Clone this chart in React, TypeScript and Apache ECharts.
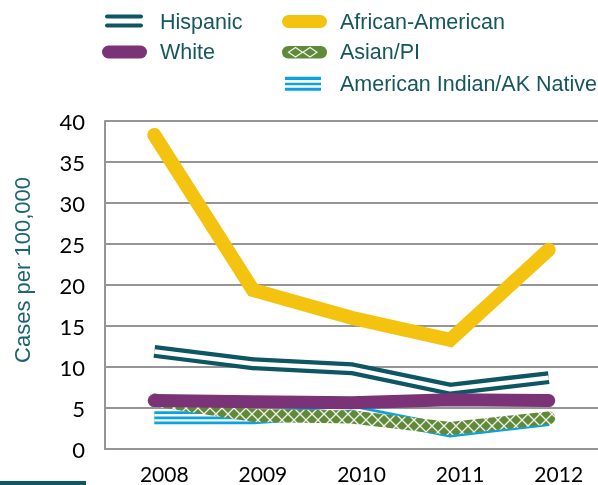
import React, { useEffect, useRef } from "react";
import * as echarts from "echarts";

const years = ["2008", "2009", "2010", "2011", "2012"];
const hispanic = [11.9, 10.4, 9.8, 7.3, 8.7];
const africanAmerican = [38.3, 19.4, 16.0, 13.3, 24.3];
const white = [5.9, 5.75, 5.65, 6.0, 5.9];
const asianPI = [6.0, 4.1, 3.9, 2.5, 3.8];
const amIndian = [3.8, 3.8, 4.6, 2.2, 3.6];
const seriesNames = ["Hispanic", "African-American", "White", "Asian/PI", "American Indian/AK Native"];
const yMin = 0;
const yMax = 40;
const yStep = 5;

const TEAL = "#0e5661";
const YELLOW = "#f4c30f";
const PURPLE = "#7a3377";
const GREEN = "#5f8a3a";
const BLUE = "#0aa3e0";
const TEXT_TEAL = "#15565f";
const GRID_GRAY = "#959595";

function makePatternCanvas() {
  const c = document.createElement("canvas");
  c.width = 12;
  c.height = 12;
  const ctx = c.getContext("2d")!;
  ctx.fillStyle = GREEN;
  ctx.fillRect(0, 0, 12, 12);
  ctx.strokeStyle = "#f3f3ea";
  ctx.lineWidth = 1.3;
  ctx.beginPath();
  ctx.moveTo(6, 0);
  ctx.lineTo(12, 6);
  ctx.lineTo(6, 12);
  ctx.lineTo(0, 6);
  ctx.closePath();
  ctx.stroke();
  return c;
}

export default function App() {
  const ref = useRef<HTMLDivElement>(null);
  useEffect(() => {
    if (!ref.current) return;
    const chart = echarts.init(ref.current, null, { renderer: "svg" });
    const pattern = { image: makePatternCanvas(), repeat: "repeat", imageWidth: 12, imageHeight: 12 };
    const legendFont = { fontFamily: "'Liberation Sans', Arial, sans-serif", fontSize: 21.5, fill: TEXT_TEAL };
    const base = { type: "line", symbol: "none", silent: true, animation: false };
    chart.setOption({
      animation: false,
      grid: { left: 105, right: 0, top: 121, bottom: 36, outerBoundsMode: "none" },
      xAxis: {
        type: "category",
        data: years,
        boundaryGap: true,
        axisLine: { show: true, lineStyle: { color: GRID_GRAY, width: 2 } },
        axisTick: { show: false },
        axisLabel: { color: "#000", fontFamily: "Lato, 'Open Sans', sans-serif", fontSize: 21, lineHeight: 18, margin: 15, padding: [0, 0, 0, 20] },
      },
      yAxis: {
        type: "value",
        min: yMin,
        max: yMax,
        interval: yStep,
        name: "Cases per 100,000",
        nameLocation: "middle",
        nameGap: 72,
        nameTextStyle: { color: "#1a6570", fontFamily: "'Liberation Sans', Arial, sans-serif", fontSize: 22, padding: [0, 0, 0, 30] },
        axisLine: { show: true, lineStyle: { color: GRID_GRAY, width: 2 } },
        axisTick: { show: false },
        splitLine: { show: true, lineStyle: { color: GRID_GRAY, width: 2 } },
        axisLabel: { color: "#000", fontFamily: "Lato, 'Open Sans', sans-serif", fontSize: 22, margin: 20 },
      },
      series: [
        { ...base, name: seriesNames[4], data: amIndian, lineStyle: { color: BLUE, width: 13, cap: "butt", join: "miter" } },
        { ...base, name: seriesNames[4], data: amIndian, lineStyle: { color: "#ffffff", width: 7.5, cap: "butt", join: "miter" } },
        { ...base, name: seriesNames[4], data: amIndian, lineStyle: { color: BLUE, width: 2.8, cap: "butt", join: "miter" } },
        { ...base, name: seriesNames[3], data: asianPI, lineStyle: { color: pattern, width: 13, cap: "round", join: "round" } },
        { ...base, name: seriesNames[0], data: hispanic, lineStyle: { color: TEAL, width: 13, cap: "butt", join: "miter" } },
        { ...base, name: seriesNames[0], data: hispanic, lineStyle: { color: "#ffffff", width: 4.5, cap: "butt", join: "miter" } },
        { ...base, name: seriesNames[2], data: white, lineStyle: { color: PURPLE, width: 13, cap: "round", join: "round" } },
        { ...base, name: seriesNames[1], data: africanAmerican, lineStyle: { color: YELLOW, width: 14, cap: "round", join: "miter" } },
      ],
      graphic: [
        // Hispanic
        { type: "rect", shape: { x: 105, y: 14.5, width: 38, height: 4, r: 2 }, style: { fill: TEAL } },
        { type: "rect", shape: { x: 105, y: 23.5, width: 38, height: 4, r: 2 }, style: { fill: TEAL } },
        { type: "text", x: 160, y: 22, style: { ...legendFont, text: seriesNames[0], verticalAlign: "middle" } },
        // White
        { type: "rect", shape: { x: 102, y: 45.5, width: 45, height: 13, r: 6.5 }, style: { fill: PURPLE } },
        { type: "text", x: 160, y: 52, style: { ...legendFont, text: seriesNames[2], verticalAlign: "middle" } },
        // African-American
        { type: "rect", shape: { x: 282, y: 15, width: 45, height: 13, r: 6.5 }, style: { fill: YELLOW } },
        { type: "text", x: 340, y: 22, style: { ...legendFont, text: seriesNames[1], verticalAlign: "middle" } },
        // Asian/PI
        { type: "rect", shape: { x: 282, y: 46, width: 45, height: 12.5, r: 6.25 }, style: { fill: GREEN } },
        { type: "polygon", shape: { points: [[288.5, 52.2], [295.5, 47.5], [302.5, 52.2], [295.5, 57]] }, style: { fill: "none", stroke: "#f3f3ea", lineWidth: 1.2 } },
        { type: "polygon", shape: { points: [[303, 52.2], [310, 47.5], [317, 52.2], [310, 57]] }, style: { fill: "none", stroke: "#f3f3ea", lineWidth: 1.2 } },
        { type: "text", x: 340, y: 52, style: { ...legendFont, text: seriesNames[3], verticalAlign: "middle" } },
        // American Indian/AK Native
        { type: "rect", shape: { x: 285, y: 76.7, width: 36, height: 14 }, style: { fill: BLUE } },
        { type: "rect", shape: { x: 285, y: 80, width: 36, height: 2.7 }, style: { fill: "#ffffff" } },
        { type: "rect", shape: { x: 285, y: 85.3, width: 36, height: 2.4 }, style: { fill: "#ffffff" } },
        { type: "text", x: 340, y: 84, style: { ...legendFont, text: seriesNames[4], verticalAlign: "middle" } },
        // decorative bar bottom-left
        { type: "rect", shape: { x: 0, y: 481, width: 86, height: 4 }, style: { fill: TEAL } },
      ],
    });
    return () => chart.dispose();
  }, []);
  return <div ref={ref} style={{ position: "fixed", left: 0, top: 0, width: 598, height: 485 }} />;
}
